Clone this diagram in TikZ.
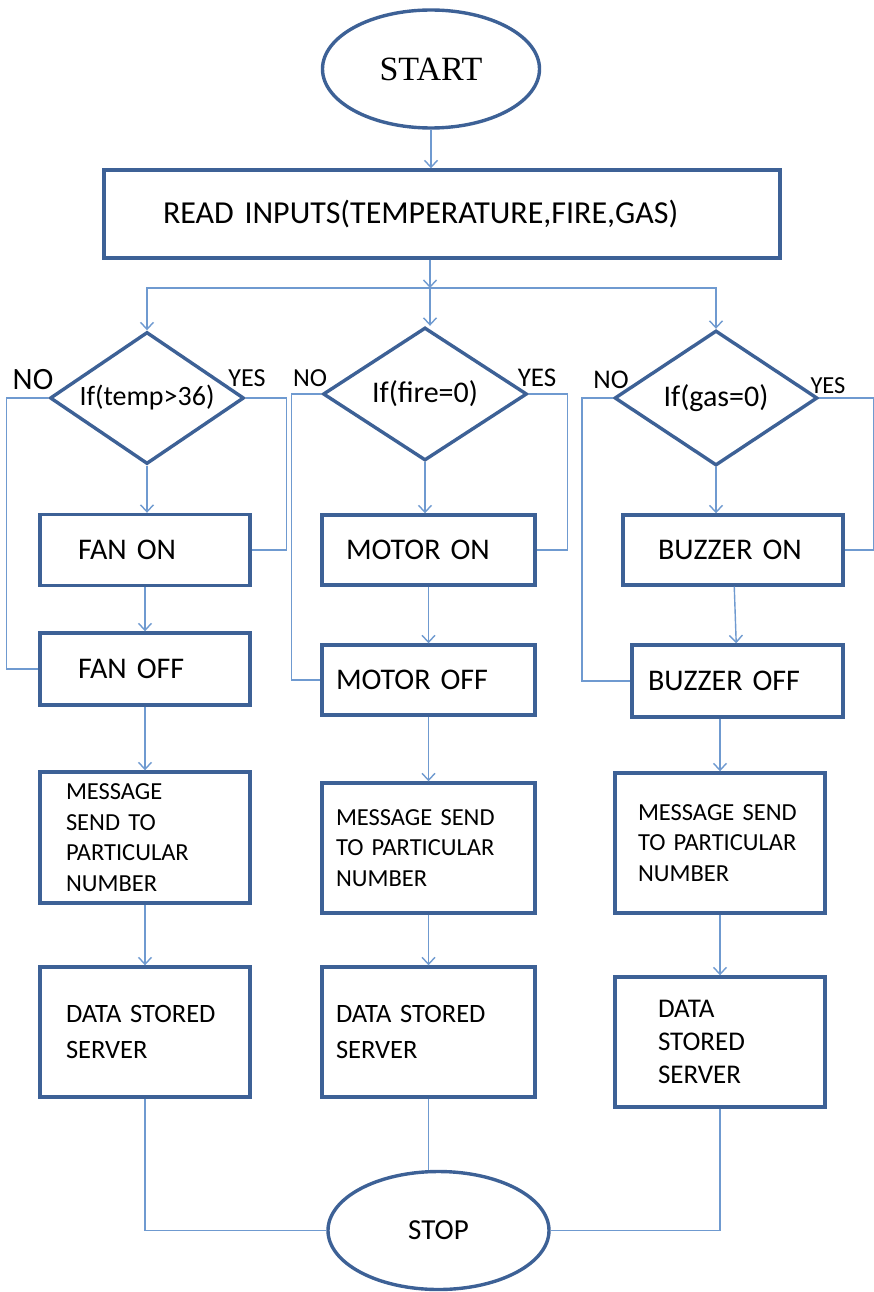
\documentclass[tikz,border=0pt]{standalone}
\usepackage{fontspec}
\setmainfont{Carlito}
\newfontfamily\startfont{Liberation Serif}
\usetikzlibrary{shapes.geometric,arrows.meta}
\definecolor{boxblue}{HTML}{3D6196}
\definecolor{lineblue}{HTML}{6F9AD0}
\newcommand{\tightsp}{\spaceskip=0.17em plus 0.05em\relax}
\tikzset{
  term/.style={ellipse, draw=boxblue, line width=3.4pt, inner sep=0pt},
  decide/.style={diamond, draw=boxblue, line width=3.4pt, inner sep=0pt, aspect=1.5},
  box/.style={draw=boxblue, line width=3.4pt, inner ysep=0pt, align=left},
  bigtext/.style={font=\fontsize{30}{34}\selectfont\tightsp},
  msgtext/.style={font=\fontsize{24.5}{30.5}\selectfont\tightsp},
  datatext/.style={font=\fontsize{26.5}{36}\selectfont\tightsp},
  lbl/.style={inner sep=0pt},
  line/.style={draw=lineblue, line width=1.4pt},
  arr/.style={line, -{Straight Barb[length=7pt,width=13pt]}}
}
\begin{document}
\begin{tikzpicture}[x=1pt,y=-1pt]
  \useasboundingbox (0,0) rectangle (874,1292);
  \node[term, minimum width=217pt, minimum height=118pt, font=\startfont\fontsize{34}{34}\selectfont] (start) at (431,69) {START};
  \node[box, minimum height=88pt, inner xsep=59pt, text width=558pt, font=\fontsize{32}{36}\selectfont\tightsp] (read) at (442,214) {READ INPUTS(TEMPERATURE,FIRE,GAS)};
  \coordinate (split) at (430,288);

  \node[decide, minimum width=194pt, minimum height=132pt, font=\fontsize{28}{30}\selectfont] (if1) at (147,398) {If(temp>36)};
  \node[decide, minimum width=204pt, minimum height=133pt, font=\fontsize{30}{30}\selectfont] (if2) at (425,394) {If(fire=0)};
  \node[decide, minimum width=203pt, minimum height=135pt, font=\fontsize{30}{30}\selectfont] (if3) at (716,398) {If(gas=0)};

  \node[lbl, font=\fontsize{31}{31}\selectfont] (no1) at (33,380) {NO};
  \node[lbl, font=\fontsize{26}{26}\selectfont] (yes1) at (247,378) {YES};
  \node[lbl, font=\fontsize{26}{26}\selectfont] (no2) at (310,378) {NO};
  \node[lbl, font=\fontsize{27}{27}\selectfont] (yes2) at (537,378) {YES};
  \node[lbl, font=\fontsize{27}{27}\selectfont] (no3) at (611,380) {NO};
  \node[lbl, font=\fontsize{24.5}{24.5}\selectfont] (yes3) at (828,386) {YES};

  \node[box, bigtext, minimum height=71pt, inner xsep=38pt, text width=134pt] (fanon) at (145,550) {FAN ON};
  \node[box, bigtext, minimum height=72pt, inner xsep=38pt, text width=134pt] (fanoff) at (145,669) {FAN OFF};
  \node[box, msgtext, minimum height=131pt, inner xsep=26pt, text width=158pt] (msg1) at (145,837.5) {MESSAGE\\SEND TO\\PARTICULAR\\NUMBER};
  \node[box, datatext, minimum height=130pt, inner xsep=26pt, text width=158pt] (data1) at (145,1032) {DATA STORED\\SERVER};

  \node[box, bigtext, minimum height=70pt, inner xsep=24pt, text width=165pt] (motoron) at (428.5,550) {MOTOR ON};
  \node[box, bigtext, minimum height=70pt, inner xsep=14pt, text width=185pt] (motoroff) at (428.5,680) {MOTOR OFF};
  \node[box, msgtext, minimum height=130pt, inner xsep=14pt, text width=185pt] (msg2) at (428.5,848) {MESSAGE SEND\\TO PARTICULAR\\NUMBER};
  \node[box, datatext, minimum height=130pt, inner xsep=14pt, text width=185pt] (data2) at (428.5,1032) {DATA STORED\\SERVER};

  \node[box, bigtext, minimum height=70pt, inner xsep=35pt, text width=150pt] (buzzon) at (733,550) {BUZZER ON};
  \node[box, bigtext, minimum height=72pt, inner xsep=16pt, text width=179pt] (buzzoff) at (737.5,681) {BUZZER OFF};
  \node[box, msgtext, minimum height=140pt, inner xsep=23pt, text width=164pt] (msg3) at (720,843) {MESSAGE SEND\\TO PARTICULAR\\NUMBER};
  \node[box, font=\fontsize{27}{33}\selectfont, minimum height=130pt, inner xsep=43pt, text width=124pt] (data3) at (720,1042) {DATA\\STORED\\SERVER};

  \node[term, minimum width=221pt, minimum height=118pt, font=\fontsize{29}{29}\selectfont] (stop) at (438.5,1230.5) {STOP};

  \draw[arr] (start.south) -- (start.south |- read.north);
  \draw[arr] (split |- read.south) -- (split);
  \draw[arr] (split) -| (if1.north);
  \draw[arr] (split) -- (split |- if2.north);
  \draw[arr] (split) -| (if3.north);

  \draw[arr] (if1.south) -- (if1.south |- fanon.north);
  \draw[arr] (if2.south) -- (if2.south |- motoron.north);
  \draw[arr] (if3.south) -- (if3.south |- buzzon.north);

  \draw[line] (if1.east) -- ++(41,0) |- (fanon.east);
  \draw[line] (if2.east) -- ++(39,0) |- (motoron.east);
  \draw[line] (if3.east) -- ++(54,0) |- (buzzon.east);
  \draw[line] (if1.west) -- ++(-42,0) |- (fanoff.west);
  \draw[line] (if2.west) -- ++(-30,0) |- (motoroff.west);
  \draw[line] (if3.west) -- ++(-31,0) |- (buzzoff.west);

  \draw[arr] (fanon) -- (fanoff);
  \draw[arr] (fanoff) -- (msg1);
  \draw[arr] (msg1) -- (data1);
  \draw[arr] (motoron) -- (motoroff);
  \draw[arr] (motoroff) -- (msg2);
  \draw[arr] (msg2) -- (data2);
  \draw[arr] (buzzon) -- (buzzoff);
  \draw[arr] (msg3.north |- buzzoff.south) -- (msg3.north);
  \draw[arr] (msg3) -- (data3);

  \draw[line] (data1.south) |- (stop.west);
  \draw[line] (data2.south) -- (data2.south |- stop.north);
  \draw[line] (data3.south) |- (stop.east);
\end{tikzpicture}
\end{document}
